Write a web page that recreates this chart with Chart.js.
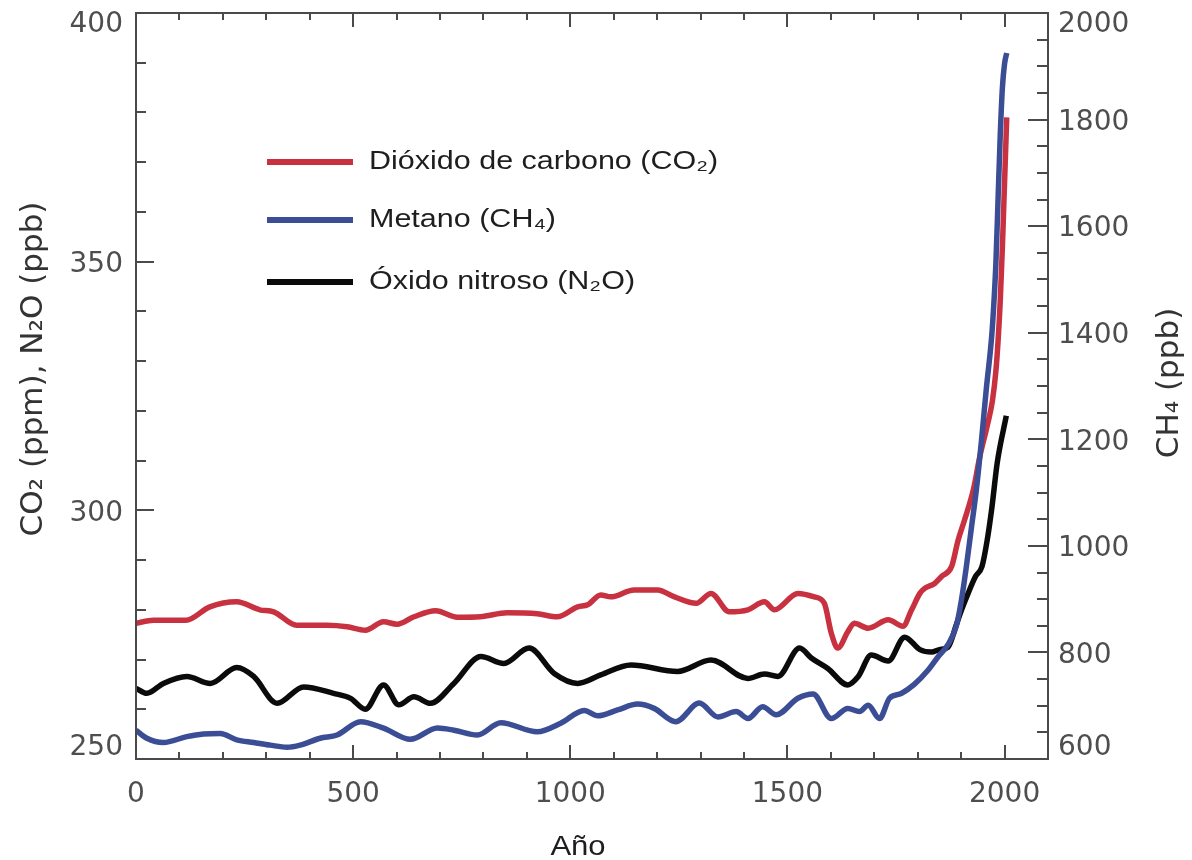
<!DOCTYPE html>
<html>
<head>
<meta charset="utf-8">
<script src="https://cdn.jsdelivr.net/npm/chart.js@4.4.1/dist/chart.umd.min.js"></script>
<style>
html,body{margin:0;padding:0;background:#ffffff;}
canvas{display:block;}
</style>
</head>
<body>
<canvas id="c" width="1192" height="860"></canvas>
<script>
// ---------- data ----------
const CO2_YEARS = [0,40,115,170,232,285,317,370,440,486,528,570,601,640,690,740,793,855,924,970,1017,1040,1070,1093,1147,1201,1240,1290,1324,1366,1409,1447,1470,1524,1562,1585,1601,1616,1639,1654,1686,1732,1766,1786,1805,1816,1839,1855,1878,1893,1908,1928,1943,1960,1972,1980,1985,1990,1995,2000,2005];
const CO2_PPM = [277.3,277.9,277.9,280.6,281.6,280.0,279.6,276.9,276.9,276.6,275.9,277.6,277.1,278.6,279.8,278.5,278.6,279.4,279.2,278.6,280.6,281.0,283.0,282.6,284.0,284.0,282.6,281.3,283.3,279.6,280.0,281.6,280.0,283.3,282.6,281.3,275.3,272.3,275.6,277.3,276.3,278.0,276.7,280.0,283.3,284.3,285.3,286.7,288.7,294.0,298.1,304.1,310.8,317,322,328,334,342,353,366,379];

const CH4_YEARS = [0,25,63,117,155,194,232,271,309,348,378,424,463,517,570,632,694,732,786,840,924,978,1032,1063,1109,1155,1193,1243,1297,1340,1382,1409,1443,1474,1524,1559,1601,1639,1666,1686,1712,1735,1762,1792,1824,1847,1870,1889,1901,1912,1924,1935,1947,1958,1970,1975,1980,1985,1990,1995,2000,2005];
const CH4_PPB = [654,639,631,642,647,648,636,631,626,622,626,639,645,670,658,637,658,654,645,668,651,667,691,681,692,703,695,670,705,679,689,676,698,683,714,722,676,695,689,701,676,714,723,740,767,792,815,850,900,961,1036,1105,1199,1295,1390,1450,1530,1650,1770,1860,1905,1925];

const N2O_YEARS = [0,25,63,117,171,232,271,325,386,455,494,528,570,605,640,678,732,794,847,905,963,1017,1070,1140,1247,1324,1409,1447,1478,1528,1555,1593,1639,1663,1693,1732,1770,1805,1832,1850,1870,1889,1901,1916,1933,1948,1960,1971,1983,2004];
const N2O_PPB = [264.2,263.2,265.2,266.6,265.2,268.4,266.6,261.2,264.5,263.2,262.2,260.0,264.9,260.9,262.5,261.2,265.2,270.6,269.2,272.3,267.2,265.2,266.9,268.9,267.6,269.9,266.2,267.1,266.6,272.3,270.3,268.2,264.9,266.6,270.9,269.7,274.5,272.0,271.5,272.0,272.5,277.0,280.0,283.3,286.7,288.7,294.0,300.7,309.5,319.0];

// ---------- axes / labels ----------
const X_TICKS = [0, 500, 1000, 1500, 2000];
const LEFT_TICKS = [250, 300, 350, 400];
const RIGHT_TICKS = [600, 800, 1000, 1200, 1400, 1600, 1800, 2000];
const X_RANGE = [0, 2100];
const LEFT_RANGE = [250, 400];
const RIGHT_RANGE = [600, 2000];
const X_MINOR_STEP = 100, LEFT_MINOR_STEP = 10, RIGHT_MINOR_STEP = 50;

const SERIES_LABELS = ['Dióxido de carbono (CO₂)', 'Metano (CH₄)', 'Óxido nitroso (N₂O)'];
const X_TITLE = 'Año';
const LEFT_TITLE = 'CO₂ (ppm), N₂O (ppb)';
const RIGHT_TITLE = 'CH₄ (ppb)';

// ---------- styles ----------
const RED = '#c8313f';
const BLUE = '#3b4d95';
const BLACK = '#0b0b0b';
const FRAME = '#4a4a4a';
const TICK_TEXT = '#4e4e4e';
const TICK_FONT = {family: 'DejaVu Sans', size: 28};

function xy(xs, ys) { return xs.map((x, i) => ({x: x, y: ys[i]})); }

// vertical-axis labels: end labels kept inside the frame, others nudged slightly down
function yLabel(range) {
  return (v) => {
    const s = String(v);
    if (v === range[0]) return [s, ''];
    return ['', s];
  };
}
function yFont(range) {
  return (c) => {
    const v = c.tick ? c.tick.value : null;
    let lh = '6px';
    if (v === range[1]) lh = '24px';
    else if (v === range[0]) lh = '22px';
    return {family: TICK_FONT.family, size: TICK_FONT.size, lineHeight: lh};
  };
}

const decor = {
  id: 'decor',
  afterDatasetsDraw(chart) {
    const {ctx, chartArea: a, scales} = chart;
    ctx.save();
    ctx.strokeStyle = FRAME;
    ctx.lineWidth = 2;
    ctx.lineCap = 'butt';
    const seg = (x1, y1, x2, y2) => { ctx.beginPath(); ctx.moveTo(x1, y1); ctx.lineTo(x2, y2); ctx.stroke(); };
    const sx = scales.x;
    for (let v = X_RANGE[0]; v <= X_RANGE[1]; v += X_MINOR_STEP) {
      const p = Math.round(sx.getPixelForValue(v));
      if (p <= a.left + 1 || p >= a.right - 1) continue;
      const len = X_TICKS.includes(v) ? 14 : 7;
      seg(p, a.bottom, p, a.bottom - len);
      seg(p, a.top, p, a.top + len);
    }
    const sy = scales.y;
    for (let v = LEFT_RANGE[0]; v <= LEFT_RANGE[1]; v += LEFT_MINOR_STEP) {
      const p = Math.round(sy.getPixelForValue(v));
      if (p <= a.top + 1 || p >= a.bottom - 1) continue;
      const len = LEFT_TICKS.includes(v) ? 18 : 10;
      seg(a.left, p, a.left + len, p);
    }
    const sr = scales.y1;
    for (let v = RIGHT_RANGE[0]; v <= RIGHT_RANGE[1]; v += RIGHT_MINOR_STEP) {
      const p = Math.round(sr.getPixelForValue(v));
      if (p <= a.top + 1 || p >= a.bottom - 1) continue;
      const len = RIGHT_TICKS.includes(v) ? 20 : 11;
      seg(a.right, p, a.right - len, p);
    }
    ctx.strokeRect(a.left, a.top, a.right - a.left, a.bottom - a.top);
    ctx.restore();
  },
  afterDraw(chart) {
    const ctx = chart.ctx;
    ctx.save();
    const items = [
      {label: SERIES_LABELS[0], color: RED, y: 162},
      {label: SERIES_LABELS[1], color: BLUE, y: 220},
      {label: SERIES_LABELS[2], color: BLACK, y: 282}
    ];
    items.forEach(it => {
      ctx.strokeStyle = it.color;
      ctx.lineWidth = 6;
      ctx.beginPath(); ctx.moveTo(267, it.y); ctx.lineTo(353, it.y); ctx.stroke();
      ctx.save();
      ctx.translate(369, it.y);
      ctx.scale(1.22, 1);
      ctx.fillStyle = '#1e1e1e';
      ctx.font = '25px "Liberation Sans", Arial, sans-serif';
      ctx.textAlign = 'left';
      ctx.textBaseline = 'middle';
      ctx.fillText(it.label, 0, 0);
      ctx.restore();
    });
    ctx.save();
    ctx.translate(578, 855);
    ctx.scale(1.15, 1);
    ctx.fillStyle = '#1e1e1e';
    ctx.font = '27px "Liberation Sans", Arial, sans-serif';
    ctx.textAlign = 'center';
    ctx.textBaseline = 'alphabetic';
    ctx.fillText(X_TITLE, 0, 0);
    ctx.restore();
    ctx.save();
    ctx.translate(42, 369);
    ctx.rotate(-Math.PI / 2);
    ctx.fillStyle = '#333333';
    ctx.font = '31px "DejaVu Sans", sans-serif';
    ctx.textAlign = 'center';
    ctx.textBaseline = 'alphabetic';
    ctx.fillText(LEFT_TITLE, 0, 0);
    ctx.restore();
    ctx.save();
    ctx.translate(1178, 383);
    ctx.rotate(-Math.PI / 2);
    ctx.fillStyle = '#333333';
    ctx.font = '31px "DejaVu Sans", sans-serif';
    ctx.textAlign = 'center';
    ctx.textBaseline = 'alphabetic';
    ctx.fillText(RIGHT_TITLE, 0, 0);
    ctx.restore();
    ctx.restore();
  }
};

const lineStyle = {
  borderWidth: 5.5,
  pointRadius: 0,
  pointHoverRadius: 0,
  fill: false,
  cubicInterpolationMode: 'monotone'
};

new Chart(document.getElementById('c'), {
  type: 'line',
  data: {
    datasets: [
      Object.assign({label: SERIES_LABELS[0], data: xy(CO2_YEARS, CO2_PPM), yAxisID: 'y', borderColor: RED, backgroundColor: RED, order: 2}, lineStyle),
      Object.assign({label: SERIES_LABELS[1], data: xy(CH4_YEARS, CH4_PPB), yAxisID: 'y1', borderColor: BLUE, backgroundColor: BLUE, order: 0}, lineStyle),
      Object.assign({label: SERIES_LABELS[2], data: xy(N2O_YEARS, N2O_PPB), yAxisID: 'y', borderColor: BLACK, backgroundColor: BLACK, order: 1}, lineStyle)
    ]
  },
  options: {
    responsive: false,
    animation: false,
    events: [],
    layout: {padding: {top: 13, left: 0, right: 0, bottom: 0}},
    plugins: {legend: {display: false}, tooltip: {enabled: false}, title: {display: false}},
    scales: {
      x: {
        type: 'linear', position: 'bottom',
        min: X_RANGE[0], max: X_RANGE[1],
        afterBuildTicks: s => { s.ticks = X_TICKS.map(v => ({value: v})); },
        afterFit: s => { s.height = 101; s.paddingLeft = 0; s.paddingRight = 0; },
        grid: {display: false, drawTicks: false},
        border: {display: false},
        ticks: {padding: 19, font: TICK_FONT, color: TICK_TEXT, maxRotation: 0, callback: v => String(v)}
      },
      y: {
        type: 'linear', position: 'left',
        min: LEFT_RANGE[0], max: LEFT_RANGE[1],
        afterBuildTicks: s => { s.ticks = LEFT_TICKS.map(v => ({value: v})); },
        afterFit: s => { s.width = 136; s.paddingTop = 0; s.paddingBottom = 0; },
        grid: {display: false, drawTicks: false},
        border: {display: false},
        ticks: {padding: 13, font: yFont(LEFT_RANGE), color: TICK_TEXT, callback: yLabel(LEFT_RANGE)}
      },
      y1: {
        type: 'linear', position: 'right',
        min: RIGHT_RANGE[0], max: RIGHT_RANGE[1],
        afterBuildTicks: s => { s.ticks = RIGHT_TICKS.map(v => ({value: v})); },
        afterFit: s => { s.width = 144; s.paddingTop = 0; s.paddingBottom = 0; },
        grid: {display: false, drawTicks: false},
        border: {display: false},
        ticks: {padding: 10, font: yFont(RIGHT_RANGE), color: TICK_TEXT, callback: yLabel(RIGHT_RANGE)}
      }
    }
  },
  plugins: [decor]
});
</script>
</body>
</html>
